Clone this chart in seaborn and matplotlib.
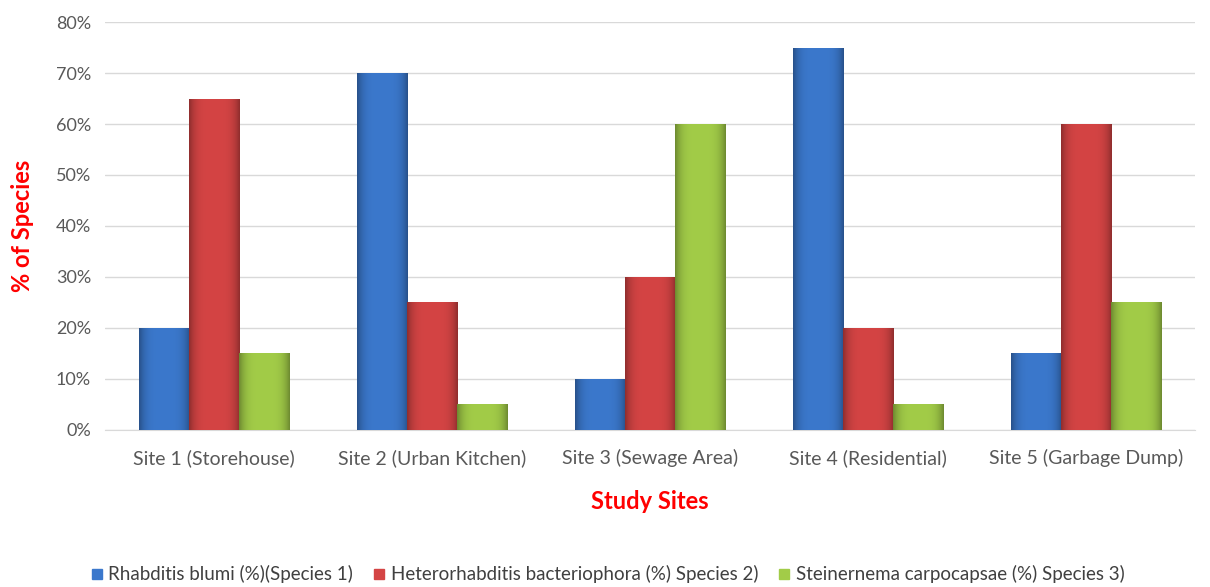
import numpy as np
import pandas as pd
import matplotlib
matplotlib.use("Agg")
import matplotlib.pyplot as plt
import matplotlib.colors as mcolors
from matplotlib.ticker import FuncFormatter
import seaborn as sns

sites = ["Site 1 (Storehouse)", "Site 2 (Urban Kitchen)", "Site 3 (Sewage Area)",
         "Site 4 (Residential)", "Site 5 (Garbage Dump)"]
species = ["Rhabditis blumi (%)(Species 1)",
           "Heterorhabditis bacteriophora (%) Species 2)",
           "Steinernema carpocapsae (%) Species 3)"]
species1 = [20, 70, 10, 75, 15]
species2 = [65, 25, 30, 20, 60]
species3 = [15, 5, 60, 5, 25]
colors = ["#3b78cc", "#d44444", "#a2cc48"]


def main():
    df = pd.DataFrame({"Site": sites * 3,
                       "Species": [species[0]] * 5 + [species[1]] * 5 + [species[2]] * 5,
                       "Value": species1 + species2 + species3})

    sns.set_style("white")
    plt.rcParams["font.family"] = ["Lato", "DejaVu Sans"]

    fig = plt.figure(figsize=(12.1, 5.87), dpi=100)
    ax = fig.add_axes([0.0868, 0.2675, 0.9008, 0.695])

    sns.barplot(data=df, x="Site", y="Value", hue="Species", palette=colors,
                width=0.69, saturation=1, ax=ax, legend=False, zorder=3, linewidth=0)

    # bevel-like shading on each bar (flat middle, darker edges)
    t = np.linspace(-1, 1, 60)
    shade = 1 - 0.32 * np.abs(t) ** 4
    for patch in ax.patches:
        x0, y0 = patch.get_x(), patch.get_y()
        w, h = patch.get_width(), patch.get_height()
        if h <= 0:
            continue
        base = np.array(mcolors.to_rgb(patch.get_facecolor()))
        img = np.clip(base[None, None, :] * shade[None, :, None], 0, 1)
        im = ax.imshow(img, extent=[x0, x0 + w, y0, y0 + h], aspect="auto",
                       zorder=4, interpolation="bicubic")
        im.set_clip_path(patch)

    ax.set_xlim(-0.5, 4.5)
    ax.set_ylim(0, 80)
    ax.set_yticks(range(0, 81, 10))
    ax.yaxis.set_major_formatter(FuncFormatter(lambda v, p: f"{int(v)}%"))
    ax.grid(axis="y", color="#d9d9d9", linewidth=1, zorder=0)
    for s in ["top", "right", "left"]:
        ax.spines[s].set_visible(False)
    ax.spines["bottom"].set_color("#d9d9d9")
    ax.tick_params(axis="y", length=0, labelsize=13, colors="#595959", pad=10)
    ax.tick_params(axis="x", length=0, labelsize=14, colors="#595959", pad=14)

    ax.set_xlabel("Study Sites", fontsize=17, fontweight="bold", color="#ff0000", labelpad=16)
    ax.set_ylabel("% of Species", fontsize=17, fontweight="bold", color="#ff0000", labelpad=16)

    handles = [plt.Line2D([], [], marker="s", linestyle="", markersize=7,
                          markerfacecolor=c, markeredgecolor=c) for c in colors]
    fig.legend(handles, species, loc="center", bbox_to_anchor=(0.5, 0.022), ncol=3,
               frameon=False, fontsize=13.5, handletextpad=0.0, handlelength=1.2,
               columnspacing=0.8, labelcolor="#404040")

    fig.savefig("out.png", dpi=100)


if __name__ == "__main__":
    main()
